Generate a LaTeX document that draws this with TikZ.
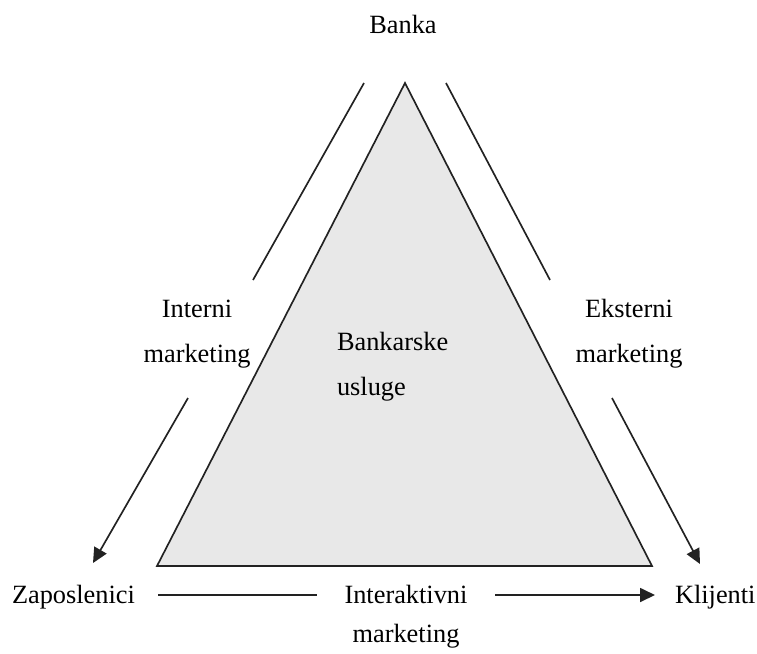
\documentclass[tikz,border=0pt]{standalone}
\usepackage{fontspec}
\setmainfont{Liberation Serif}
\usetikzlibrary{arrows.meta}
\definecolor{trifill}{HTML}{E8E8E8}
\definecolor{lineclr}{HTML}{222222}
\begin{document}
\begin{tikzpicture}[x=0.02cm,y=-0.02cm,
  lbl/.style={inner sep=0pt,outer sep=0pt,anchor=base,align=center,
    font=\fontsize{15pt}{25.5pt}\selectfont},
  ln/.style={draw=lineclr,line width=0.95pt},
  arr/.style={ln,-{Triangle[length=0.3cm,width=0.28cm]}}]
\useasboundingbox (0,0) rectangle (757,653);
% triangle
\coordinate (top) at (405,83);
\coordinate (bl) at (157,566);
\coordinate (br) at (652,566);
\filldraw[fill=trifill,draw=lineclr,line width=0.95pt,line join=miter] (top) -- (bl) -- (br) -- cycle;
% labels (base anchor = baseline of last line)
\node[lbl] (banka) at (403,33) {Banka};
\node[lbl] (interni) at (197,362) {Interni\\marketing};
\node[lbl] (eksterni) at (629,362) {Eksterni\\marketing};
\node[lbl,align=left,anchor=base west] (usluge) at (337,395) {Bankarske\\usluge};
\node[lbl,anchor=base west] (zap) at (12,603) {Zaposlenici};
\node[lbl,font=\fontsize{15pt}{22pt}\selectfont] (inter) at (406,642) {Interaktivni\\marketing};
\node[lbl,anchor=base west] (klij) at (675,603) {Klijenti};
% connector ends
\coordinate (l1a) at (364,83);
\coordinate (l1b) at (253,280);
\coordinate (l2a) at (188,398);
\coordinate (l2b) at (93,563);
\coordinate (r1a) at (446,83);
\coordinate (r1b) at (550,280);
\coordinate (r2a) at (612,398);
\coordinate (r2b) at (700,564);
\draw[ln] (l1a) -- (l1b);
\draw[arr] (l2a) -- (l2b);
\draw[ln] (r1a) -- (r1b);
\draw[arr] (r2a) -- (r2b);
\coordinate (b1) at (158,595);
\coordinate (b2) at (317,595);
\coordinate (b3) at (495,595);
\coordinate (b4) at (655,595);
\draw[ln,line width=1pt] (b1) -- (b2);
\draw[arr,line width=1pt] (b3) -- (b4);
\end{tikzpicture}
\end{document}
